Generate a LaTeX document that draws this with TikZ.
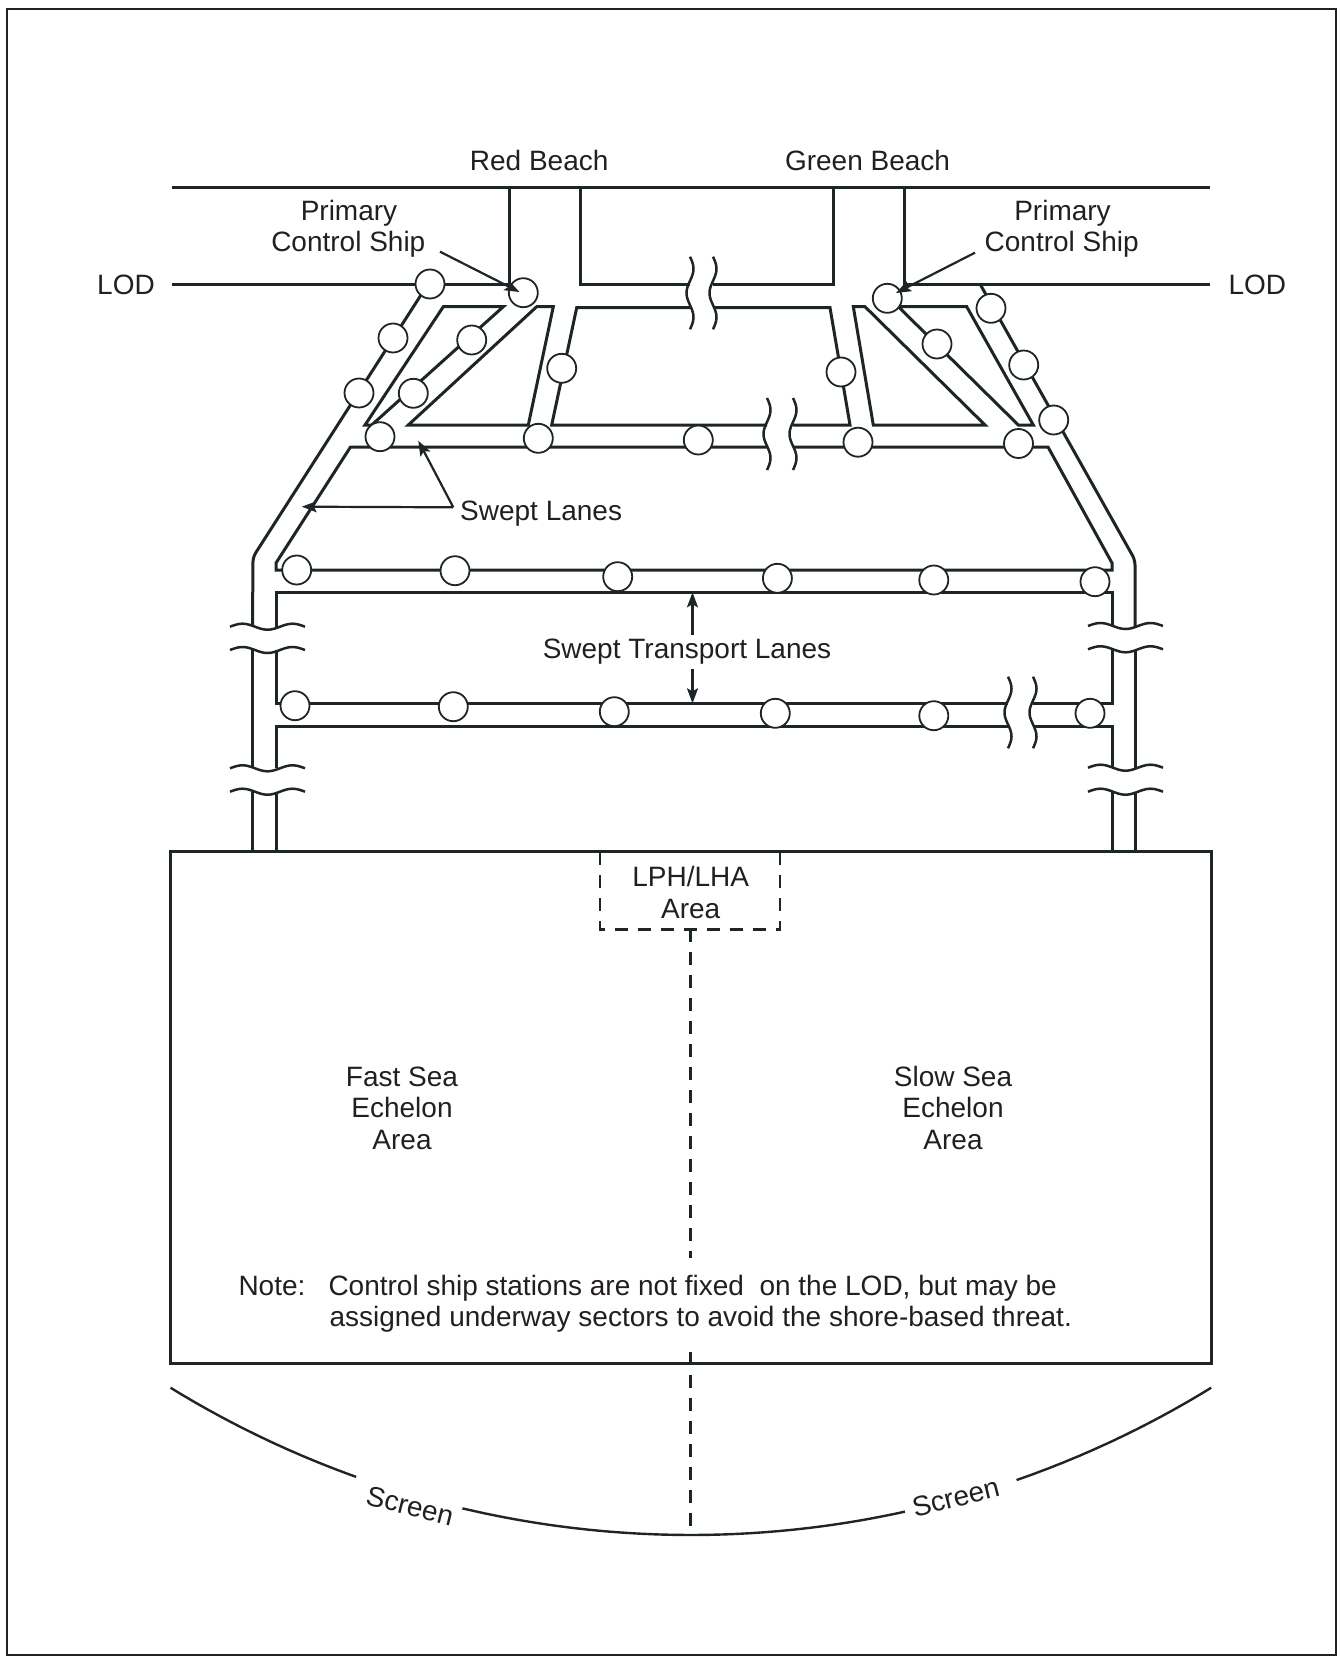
\documentclass[tikz,border=0pt]{standalone}
\usepackage{fontspec}
\setmainfont{Liberation Sans}
\usetikzlibrary{arrows.meta}
\definecolor{ink}{HTML}{1E2526}
\definecolor{txt}{HTML}{231F20}
\newcommand{\brkH}[3]{\draw[wave] plot[domain=0:1,samples=31,smooth] ({#1+(#2-#1)*\x},{#3-3*sin(540*\x)});}
\newcommand{\brkV}[3]{\draw[wave] plot[domain=0:1,samples=31,smooth] ({#1+3.5*sin(540*\x)},{#2+(#3-#2)*\x});}
\begin{document}
\begin{tikzpicture}[x=1pt,y=-1pt,
  lane/.style={draw=ink, line width=3pt, line join=miter},
  wave/.style={draw=ink, line width=2.5pt},
  ship/.style={circle, draw=ink, fill=white, line width=1.8pt, minimum size=29pt, inner sep=0pt},
  lbl/.style={text=txt, font=\fontsize{28}{31}\selectfont, inner sep=0pt},
  arr/.style={draw=ink, line width=2.2pt, -{Stealth[length=15pt,width=11pt,inset=3pt]}},
  dsh/.style={draw=ink, line width=2.8pt, dash pattern=on 13pt off 10pt},
]
\useasboundingbox (0,0) rectangle (1339,1659);
\draw[ink, line width=2.5pt] (7,9) rectangle (1336,1655);

% beach and LOD lines with the beach lanes
\draw[lane] (172,187) -- (1210,187);
\draw[lane] (172,284) -- (509,284) -- (509,187);
\draw[lane] (580,187) -- (580,284) -- (690,284);
\draw[lane] (713,284) -- (833,284) -- (833,187);
\draw[lane] (904,187) -- (904,284) -- (1210,284);

% outer lanes
\draw[lane, rounded corners=5pt] (428,284) -- (253,557) -- (252.5,626.5);
\draw[lane] (252.5,650) -- (252.5,768);
\draw[lane] (252.5,792) -- (252.5,851.7);
\draw[lane, rounded corners=5pt] (980,284) -- (1135,560) -- (1135,626);
\draw[lane] (1135,649.5) -- (1135,767.7);
\draw[lane] (1135,791.7) -- (1135,851.7);

% islands
\draw[lane] (443.3,306.7) -- (503.3,306.7) -- (371.7,425) -- (365,425) -- cycle;
\draw[lane] (536.7,306.7) -- (553.3,306.7) -- (528.3,425) -- (408.3,425) -- cycle;
\draw[lane] (690,307.7) -- (576.7,307.7) -- (551.7,425) -- (767,425);
\draw[lane] (793,425) -- (850,425) -- (830,307.7) -- (713,307.7);
\draw[lane] (853.3,306.7) -- (865,306.7) -- (985,425) -- (873.3,425) -- cycle;
\draw[lane] (898.3,306.7) -- (966.7,306.7) -- (1033.3,425) -- (1018.3,425) -- cycle;

% area between swept lane and transport lanes
\draw[lane] (767,447) -- (350.5,447) -- (276,563) -- (276,570) -- (1112,570) -- (1112,563) -- (1048,447) -- (793,447);
\draw[lane] (276,626.5) -- (276,592) -- (1112,592) -- (1112,626);
\draw[lane] (276,650) -- (276,703.3) -- (1008,703.3);
\draw[lane] (1033,703.3) -- (1112,703.3) -- (1112,649.5);
\draw[lane] (276,768) -- (276,726) -- (1008,726);
\draw[lane] (1033,726) -- (1112,726) -- (1112,767.7);
\draw[lane] (276,792) -- (276,851.7);
\draw[lane] (1112,791.7) -- (1112,851.7);

% break marks
\brkV{690}{256.7}{329.3}
\brkV{713}{256.7}{329.3}
\brkV{767}{398}{470}
\brkV{793}{398}{470}
\brkV{1008}{676.7}{748.3}
\brkV{1033}{676.7}{748.3}
\brkH{230}{305}{626.7}
\brkH{230}{305}{650}
\brkH{230}{305}{768.3}
\brkH{230}{305}{791.7}
\brkH{1088}{1163}{626}
\brkH{1088}{1163}{649.3}
\brkH{1088}{1163}{767.7}
\brkH{1088}{1163}{791.7}

% ships
\node[ship] (c1) at (430,284) {};
\node[ship] (c2) at (393,338) {};
\node[ship] (c3) at (359,393) {};
\node[ship] (c4) at (471.7,340) {};
\node[ship] (c5) at (413.3,393.3) {};
\node[ship] (pcsL) at (523.3,292.7) {};
\node[ship] (c6) at (561.7,368.3) {};
\node[ship] (c7) at (380,436.7) {};
\node[ship] (c8) at (538.3,438.3) {};
\node[ship] (c9) at (698.3,440) {};
\node[ship] (c10) at (858,442.2) {};
\node[ship] (c11) at (1018.5,443.5) {};
\node[ship] (c12) at (841,372) {};
\node[ship] (pcsR) at (887.3,298.3) {};
\node[ship] (c13) at (937,344) {};
\node[ship] (c14) at (991,308.3) {};
\node[ship] (c15) at (1023.7,365) {};
\node[ship] (c16) at (1053.7,420) {};
\node[ship] (t1) at (296.7,570) {};
\node[ship] (t2) at (455,570.7) {};
\node[ship] (t3) at (617.7,576.7) {};
\node[ship] (t4) at (777.4,578.3) {};
\node[ship] (t5) at (933.8,580) {};
\node[ship] (t6) at (1095,581.7) {};
\node[ship] (u1) at (295,705.7) {};
\node[ship] (u2) at (453.3,706.7) {};
\node[ship] (u3) at (614.3,711.7) {};
\node[ship] (u4) at (775.3,713.3) {};
\node[ship] (u5) at (933.8,715.7) {};
\node[ship] (u6) at (1090,713.3) {};

% labels top
\node[lbl, anchor=base] (redb) at (539.2,170) {Red Beach};
\node[lbl, anchor=base] (greenb) at (867.5,170) {Green Beach};
\node[lbl, anchor=base west] (lodL) at (97,294) {LOD};
\node[lbl, anchor=base west] (lodR) at (1228.3,294) {LOD};
\node[lbl, anchor=base] (pL1) at (349,220) {Primary};
\node[lbl, anchor=base] (pL2) at (348.3,251.7) {Control Ship};
\node[lbl, anchor=base] (pR1) at (1062.5,220) {Primary};
\node[lbl, anchor=base] (pR2) at (1061.7,251.7) {Control Ship};
\coordinate (pLtail) at (440,251.7);
\coordinate (pLtip) at (519.5,292);
\coordinate (pRtail) at (975,252.7);
\coordinate (pRtip) at (896,293);
\draw[arr] (pLtail) -- (pLtip);
\draw[arr] (pRtail) -- (pRtip);

% swept lanes
\node[lbl, anchor=base west] (swl) at (460,520) {Swept Lanes};
\coordinate (swv) at (453.3,507.3);
\coordinate (swt1) at (418.3,440.7);
\coordinate (swt2) at (301.7,506.7);
\draw[arr] (swv) -- (swt1);
\draw[arr] (swv) -- (swt2);

\node[lbl, anchor=base] (stl) at (687,658.3) {Swept Transport Lanes};
\coordinate (stup) at (692.5,635);
\coordinate (stdn) at (692.5,669.3);
\coordinate (stupt) at (692.5,592.3);
\coordinate (stdnt) at (692.5,703.3);
\draw[arr] (stup) -- (stupt);
\draw[arr] (stdn) -- (stdnt);

% sea echelon box
\draw[lane] (170.7,851.7) rectangle (1211,1363.3);
\draw[dsh] (600,852) rectangle (780,929.3);
\node[lbl, anchor=base] (lph1) at (690.7,886.7) {LPH/LHA};
\node[lbl, anchor=base] (lph2) at (690.7,918.3) {Area};
\draw[dsh] (690.7,929.3) -- (690.7,1258);
\draw[dsh] (690.7,1351.7) -- (690.7,1527);

\node[lbl, anchor=base] (f1) at (402,1086) {Fast Sea};
\node[lbl, anchor=base] (f2) at (402,1117.5) {Echelon};
\node[lbl, anchor=base] (f3) at (402,1149) {Area};
\node[lbl, anchor=base] (s1) at (953,1086) {Slow Sea};
\node[lbl, anchor=base] (s2) at (953,1117.5) {Echelon};
\node[lbl, anchor=base] (s3) at (953,1149) {Area};

\node[lbl, anchor=base west] (note) at (238.3,1295) {Note:};
\node[lbl, anchor=base west] (n1) at (328.3,1295) {Control ship stations are not fixed\ \ on the LOD, but may be};
\node[lbl, anchor=base west] (n2) at (329.3,1326) {assigned underway sectors to avoid the shore-based threat.};

% screen arc
\draw[ink, line width=2.4pt] plot[domain=-31.6:-19.7,samples=40,smooth] ({690.85+993*sin(\x)},{542+993*cos(\x)});
\draw[ink, line width=2.4pt] plot[domain=-13.3:12.45,samples=60,smooth] ({690.85+993*sin(\x)},{542+993*cos(\x)});
\draw[ink, line width=2.4pt] plot[domain=19.15:31.6,samples=40,smooth] ({690.85+993*sin(\x)},{542+993*cos(\x)});
\node[lbl, rotate=-14] (scL) at (410,1505.7) {Screen};
\node[lbl, rotate=14] (scR) at (955.7,1497.3) {Screen};
\end{tikzpicture}
\end{document}
